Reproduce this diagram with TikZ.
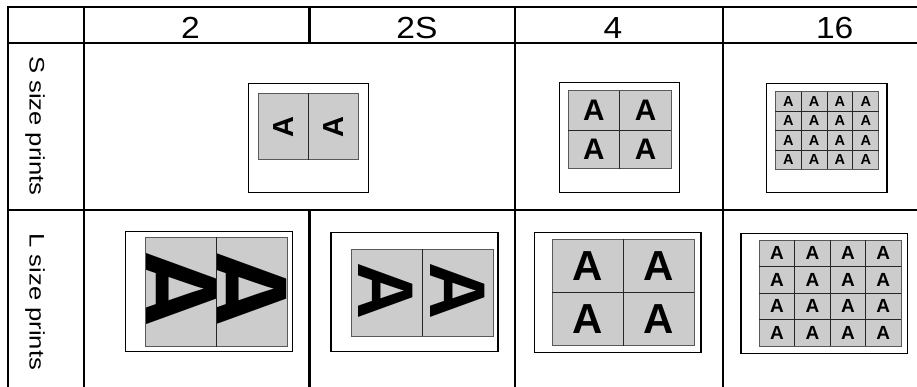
\documentclass[tikz,border=0pt]{standalone}
\usepackage{fontspec}
\setmainfont{Liberation Sans}
\begin{document}
\begin{tikzpicture}[x=1pt,y=-1pt,
  tline/.style={line width=2.2pt},
  frame/.style={draw=black, line width=1.3pt, fill=white},
  sheet/.style={draw=black!65, line width=1pt, fill=black!20},
  gridl/.style={draw=black!85, line width=0.9pt},
  hdr/.style={inner sep=0pt, font=\fontsize{30.5}{36}\selectfont},
  side/.style={inner sep=0pt, rotate=-90, anchor=base, font=\fontsize{21}{24}\selectfont},
  glyph/.style={inner sep=0pt, font=\bfseries}
]
\useasboundingbox (0,0) rectangle (917,387);
\fill[white] (0,0) rectangle (917,387);
% table lines
\begin{scope}
\clip (0,0) rectangle (917,387);
\draw[tline] (8,400) -- (8,7) -- (930,7);
\draw[tline] (8,43) -- (930,43);
\draw[tline] (8,210) -- (930,210);
\draw[tline] (84,7) -- (84,400);
\draw[tline] (309.5,7) -- (309.5,43);
\draw[tline] (309.5,210) -- (309.5,400);
\draw[tline] (515,7) -- (515,400);
\draw[tline] (723,7) -- (723,400);
\end{scope}
% headers
\node[hdr] (h2) at (190.5,28.2) {\scalebox{1.1}[1]{2}};
\node[hdr] (h2s) at (417,28.2) {\scalebox{1.1}[1]{2S}};
\node[hdr] (h4) at (613,28.2) {\scalebox{1.1}[1]{4}};
\node[hdr] (h16) at (834.7,28.2) {\scalebox{1.1}[1]{16}};
\node[side] (ls) at (29.5,125.8) {\scalebox{1.22}[1]{S size prints}};
\node[side] (ll) at (29.5,301.7) {\scalebox{1.22}[1]{L size prints}};
% ---- S 2
\draw[frame] (248.3,83.3) rectangle (368.3,192.7);
\draw[sheet] (258.3,93.3) rectangle (358.3,160);
\draw[gridl] (308.3,93.3) -- (308.3,160);
\node[glyph, rotate=90, font=\bfseries\fontsize{29}{30}\selectfont] (s2a) at (283.3,126.7) {A};
\node[glyph, rotate=90, font=\bfseries\fontsize{29}{30}\selectfont] (s2b) at (333.3,126.7) {A};
% ---- S 4
\draw[frame] (559.7,82.7) rectangle (679.7,192.3);
\draw[sheet] (568,91) rectangle (671.3,169);
\draw[gridl] (619.7,91) -- (619.7,169);
\draw[gridl] (568,130) -- (671.3,130);
\foreach \cx in {593.85,645.5} \foreach \cy in {110.5,149.5}
  \node[glyph, font=\bfseries\fontsize{29.7}{30}\selectfont] at (\cx,\cy) {A};
% ---- S 16
\draw[frame] (766.3,83.3) rectangle (887,192.7);
\draw[sheet] (775.3,92) rectangle (878.7,169.3);
\foreach \k in {1,2,3} {
  \draw[gridl] ({775.3+\k*25.85},92) -- ({775.3+\k*25.85},169.3);
  \draw[gridl] (775.3,{92+\k*19.325}) -- (878.7,{92+\k*19.325});
}
\foreach \i in {0,...,3} \foreach \j in {0,...,3}
  \node[glyph, font=\bfseries\fontsize{14.5}{15}\selectfont] at ({775.3+(\i+0.5)*25.85},{92+(\j+0.5)*19.325}) {A};
% ---- L 2
\draw[frame] (125.3,231.7) rectangle (292.3,351.7);
\draw[sheet] (145.7,237.3) rectangle (287.3,346.7);
\begin{scope}
\clip (145.7,237.3) rectangle (216.7,346.7);
\node[glyph, rotate=-90, anchor=north, font=\bfseries\fontsize{118}{120}\selectfont] (l2a) at (216.7,289.5) {A};
\end{scope}
\begin{scope}
\clip (216.7,237.3) rectangle (287.3,346.7);
\node[glyph, rotate=-90, anchor=north, font=\bfseries\fontsize{118}{120}\selectfont] (l2b) at (287.3,289.5) {A};
\end{scope}
\draw[sheet, fill=none] (145.7,237.3) rectangle (287.3,346.7);
\draw[gridl] (216.7,237.3) -- (216.7,346.7);
% ---- L 2S
\draw[frame] (331,232.7) rectangle (498,351.7);
\draw[sheet] (351.7,249) rectangle (493.3,336);
\draw[gridl] (422.5,249) -- (422.5,336);
\node[glyph, rotate=-90, font=\bfseries\fontsize{79}{80}\selectfont] (l2sa) at (386,291.5) {A};
\node[glyph, rotate=-90, font=\bfseries\fontsize{79}{80}\selectfont] (l2sb) at (457.2,291.5) {A};
% ---- L 4
\draw[frame] (534.3,232.7) rectangle (701,352.7);
\draw[sheet] (552.3,239.3) rectangle (694,345.7);
\draw[gridl] (623.2,239.3) -- (623.2,345.7);
\draw[gridl] (552.3,292.5) -- (694,292.5);
\foreach \cx in {587.7,658.6} \foreach \cy in {266,319}
  \node[glyph, font=\bfseries\fontsize{42}{44}\selectfont] at (\cx,\cy) {A};
% ---- L 16
\draw[frame] (741,233.3) rectangle (907.7,353.3);
\draw[sheet] (759.3,240) rectangle (901,346);
\foreach \k in {1,2,3} {
  \draw[gridl] ({759.3+\k*35.425},240) -- ({759.3+\k*35.425},346);
  \draw[gridl] (759.3,{240+\k*26.5}) -- (901,{240+\k*26.5});
}
\foreach \i in {0,...,3} \foreach \j in {0,...,3}
  \node[glyph, font=\bfseries\fontsize{19}{20}\selectfont] at ({759.3+(\i+0.5)*35.425},{240+(\j+0.5)*26.5}) {A};
\end{tikzpicture}
\end{document}
